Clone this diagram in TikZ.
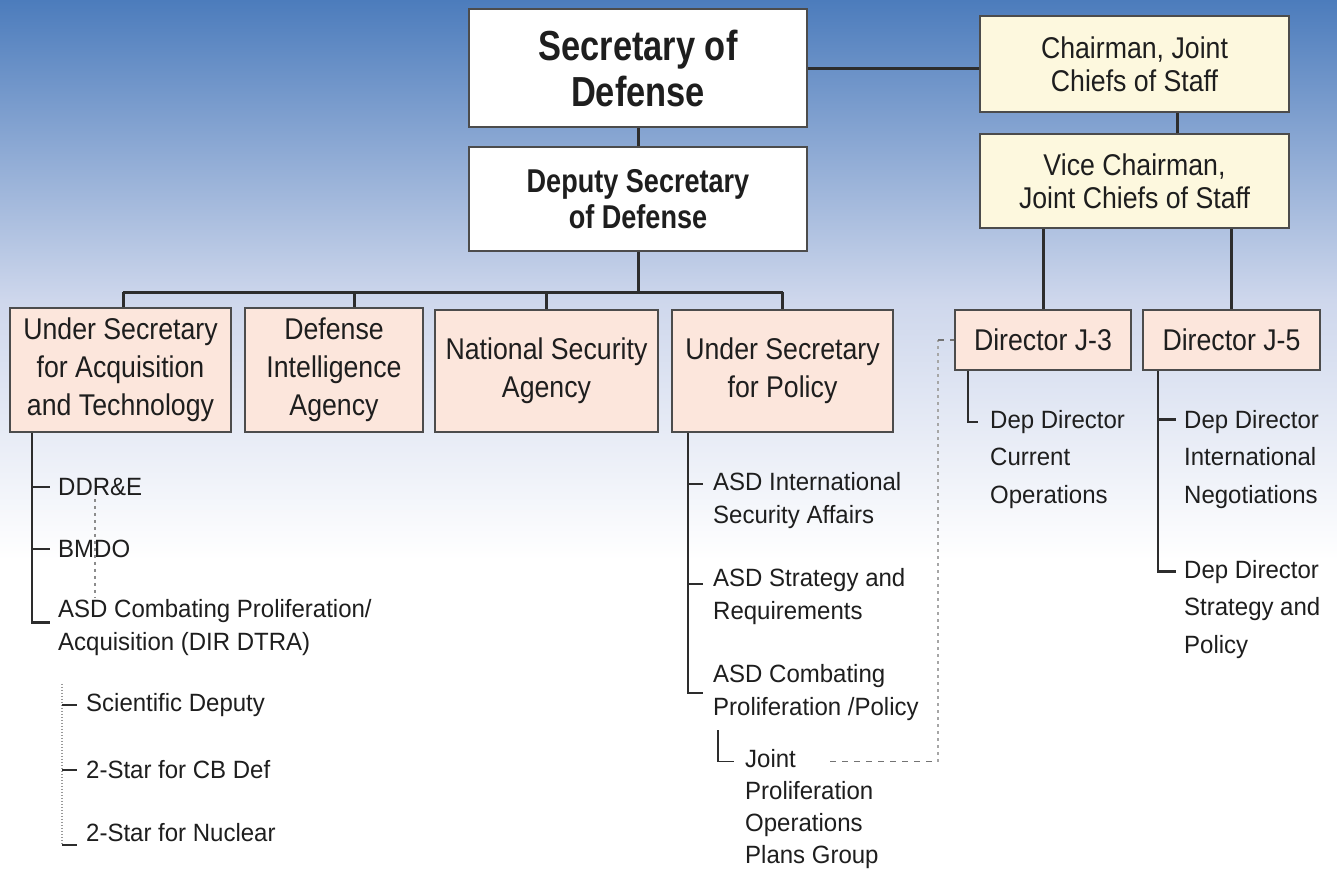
\documentclass[tikz,border=0pt]{standalone}
\usepackage{fontspec}
\setmainfont{Liberation Sans}
\newfontfamily\boxfont{Liberation Sans}[FakeStretch=0.89]
\newfontfamily\listfont{Liberation Sans}[FakeStretch=0.96]
\newfontfamily\headfont{Liberation Sans}[FakeStretch=0.82]
\usetikzlibrary{calc}
\definecolor{bgtop}{RGB}{76,124,188}
\definecolor{bgmid}{RGB}{206,215,236}
\definecolor{pinkfill}{RGB}{252,230,220}
\definecolor{yellowfill}{RGB}{253,248,222}
\definecolor{linecol}{RGB}{45,45,45}
\definecolor{txtcol}{RGB}{30,30,30}
\begin{document}
\begin{tikzpicture}[x=1pt,y=-1pt,
  orgbox/.style={draw=black!70, line width=2pt, inner sep=0pt, align=center, text=txtcol},
  whitebox/.style={orgbox, fill=white},
  yellowbox/.style={orgbox, fill=yellowfill, font=\fontsize{30}{33}\boxfont},
  pinkbox/.style={orgbox, fill=pinkfill, font=\fontsize{30}{38}\boxfont},
  conn/.style={draw=linecol, line width=3pt},
  branch/.style={draw=linecol, line width=2.5pt},
  thinbranch/.style={draw=linecol, line width=1.2pt},
  subdot/.style={draw=black!40, line width=1.5pt, dash pattern=on 1.5pt off 1.5pt},
  dotline/.style={draw=black!45, line width=1.5pt, dash pattern=on 3pt off 4pt},
  sqdot/.style={draw=black!35, line width=2.5pt, dash pattern=on 3pt off 4pt},
  dashline/.style={draw=black!55, line width=1.2pt, dash pattern=on 6pt off 6pt},
  listlabel/.style={anchor=west, inner sep=0pt, align=left, text=txtcol, font=\fontsize{25}{33}\listfont},
]
\useasboundingbox (0,0) rectangle (1337,870);
\fill[white] (0,0) rectangle (1337,870);
\shade[top color=bgtop, bottom color=bgmid] (0,0) rectangle (1337,300);
\shade[top color=bgmid, bottom color=white] (0,300) rectangle (1337,560);

% boxes
\node[whitebox, minimum width=338pt, minimum height=118pt, font=\fontsize{42}{46}\headfont\bfseries] (sec) at (638,68) {Secretary of\\Defense};
\node[whitebox, minimum width=338pt, minimum height=104pt, font=\fontsize{33}{36}\headfont\bfseries] (dep) at (638,199) {Deputy Secretary\\of Defense};
\node[yellowbox, minimum width=309pt, minimum height=96pt] (chair) at (1134.5,64) {Chairman, Joint\\Chiefs of Staff};
\node[yellowbox, minimum width=309pt, minimum height=94pt] (vice) at (1134.5,181) {Vice Chairman,\\Joint Chiefs of Staff};
\node[pinkbox, minimum width=221pt, minimum height=124pt] (usat) at (120.5,370) {Under Secretary\\for Acquisition\\and Technology};
\node[pinkbox, minimum width=178pt, minimum height=124pt] (dia) at (334,370) {Defense\\Intelligence\\Agency};
\node[pinkbox, minimum width=223pt, minimum height=122pt] (nsa) at (546.5,371) {National Security\\Agency};
\node[pinkbox, minimum width=221pt, minimum height=122pt] (usp) at (782.5,371) {Under Secretary\\for Policy};
\node[pinkbox, minimum width=176pt, minimum height=60pt] (j3) at (1043,340) {Director J-3};
\node[pinkbox, minimum width=177pt, minimum height=60pt] (j5) at (1231.5,340) {Director J-5};

% top connectors
\draw[conn] (sec.east) -- (sec.east -| chair.west);
\draw[conn] (sec.south) -- (sec.south |- dep.north);
\coordinate (cv) at ([xshift=42.5pt]chair.south);
\draw[conn] (cv) -- (cv |- vice.north);
\coordinate (busL) at (123,292);
\coordinate (busDIA) at (354,292);
\draw[conn] (dep.south) -- (dep.south |- busL);
\draw[conn] (busL) -- (busL -| usp.north);
\draw[conn] (busL) -- (busL |- usat.north);
\draw[conn] (busDIA) -- (busDIA |- dia.north);
\draw[conn] (busL -| nsa.north) -- (nsa.north);
\draw[conn] (busL -| usp.north) -- (usp.north);
\draw[conn] (vice.south -| j3.north) -- (j3.north);
\draw[conn] (vice.south -| j5.north) -- (j5.north);

% left branch
\node[listlabel] (ddre) at (58,487) {DDR\&E};
\node[listlabel] (bmdo) at (58,549) {BMDO};
\node[listlabel] (asdcp) at (58,627.5) {ASD Combating Proliferation/\\Acquisition (DIR DTRA)};
\coordinate (aT) at ([xshift=-88.5pt]usat.south);
\draw[branch] (aT) |- ([shift={(-8,-5)}]asdcp.west);
\draw[branch] (aT |- ddre.west) -- ([xshift=-8pt]ddre.west);
\draw[branch] (aT |- bmdo.west) -- ([xshift=-8pt]bmdo.west);
\draw[dotline] ($(ddre.south west)+(37,3)$) -- ($(asdcp.north west)+(37,-1)$);

% sub list
\node[listlabel] (sci) at (86,705) {Scientific Deputy};
\node[listlabel] (cbd) at (86,770) {2-Star for CB Def};
\node[listlabel] (nuc) at (86,833) {2-Star for Nuclear};
\coordinate (sT) at ($(asdcp.south west)+(4,28)$);
\coordinate (sB) at ($(nuc.west)+(-24,12)$);
\draw[subdot] (sT) -- (sB);
\draw[thinbranch] (sB) -- ++(15,0);
\draw[thinbranch] (sT |- sci.west) -- ([xshift=-9pt]sci.west);
\draw[thinbranch] (sT |- cbd.west) -- ([xshift=-9pt]cbd.west);

% policy branch
\node[listlabel] (isa) at (713,501) {ASD International\\Security Affairs};
\node[listlabel] (sar) at (713,597) {ASD Strategy and\\Requirements};
\node[listlabel] (cpp) at (713,693) {ASD Combating\\Proliferation /Policy};
\coordinate (pT) at ([xshift=-94.5pt]usp.south);
\coordinate (isaT) at ([shift={(-10,-17)}]isa.west);
\coordinate (sarT) at ([shift={(-10,-13)}]sar.west);
\draw[branch] (pT) |- ([xshift=-10pt]cpp.west);
\draw[branch] (pT |- isaT) -- (isaT);
\draw[branch] (pT |- sarT) -- (sarT);

% joint group
\node[listlabel, font=\fontsize{25}{32}\listfont] (jppg) at (745,809.5) {Joint\\Proliferation\\Operations\\Plans Group};
\coordinate (jT) at ($(cpp.south west)+(5,9)$);
\coordinate (jL) at ([shift={(-11,-48)}]jppg.west);
\draw[thinbranch] (jT) |- (jL);
\coordinate (jR) at ([shift={(85,-48)}]jppg.west);
\coordinate (jbend) at ([xshift=-16pt]j3.west);
\draw[dashline] (jR) -- (jR -| jbend);
\draw[sqdot] (jR -| jbend) -- (jbend);
\draw[dashline] (jbend) -- (j3.west);

% J-3 branch
\node[listlabel, font=\fontsize{25}{37.5}\listfont] (ddco) at (990,459.5) {Dep Director\\Current\\Operations};
\coordinate (j3T) at ([xshift=-75pt]j3.south);
\coordinate (ddcoT) at ([shift={(-12,-37.5)}]ddco.west);
\draw[branch] (j3T) |- (ddcoT);

% J-5 branch
\node[listlabel, font=\fontsize{25}{37.5}\listfont] (ddin) at (1184,459.5) {Dep Director\\International\\Negotiations};
\node[listlabel, font=\fontsize{25}{37.5}\listfont] (ddsp) at (1184,609.5) {Dep Director\\Strategy and\\Policy};
\coordinate (j5T) at ([xshift=-73.5pt]j5.south);
\coordinate (ddinT) at ([shift={(-8,-40)}]ddin.west);
\coordinate (ddspT) at ([shift={(-8,-38)}]ddsp.west);
\draw[branch] (j5T) |- (ddspT);
\draw[branch] (j5T |- ddinT) -- (ddinT);
\end{tikzpicture}
\end{document}
